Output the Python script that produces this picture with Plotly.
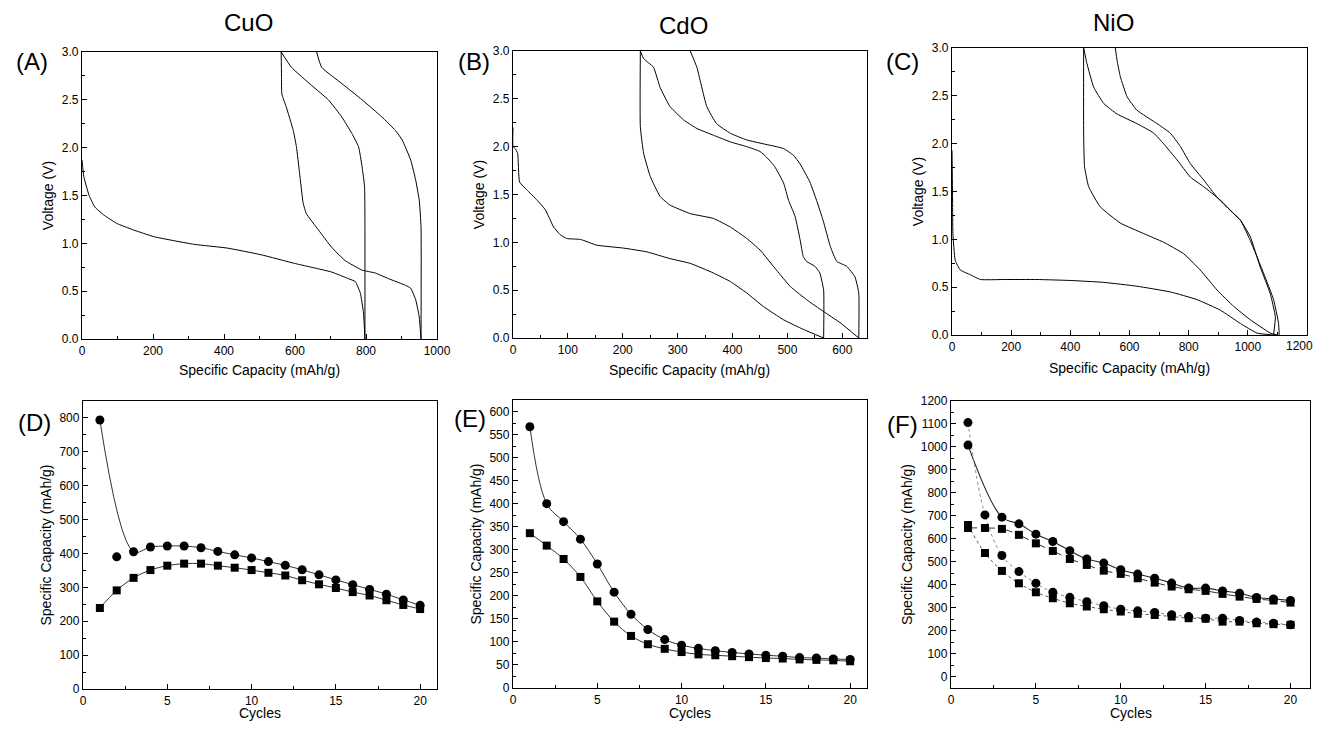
import plotly.graph_objects as go

# ---------------- Top row: voltage profiles ----------------
# CuO (A)
cuo_dis1_cap = [0, 5, 20, 36, 60, 97, 145, 202, 315, 410, 505, 599, 703, 751, 770, 784, 793, 797]
cuo_dis1_v = [1.87, 1.70, 1.50, 1.38, 1.30, 1.21, 1.14, 1.07, 0.99, 0.95, 0.88, 0.79, 0.70, 0.63, 0.60, 0.48, 0.27, 0.0]
cuo_chg1_cap = [797, 797, 796, 789, 779, 760, 732, 694, 647, 590, 561]
cuo_chg1_v = [0.0, 1.20, 1.59, 1.80, 2.01, 2.15, 2.32, 2.50, 2.65, 2.84, 3.0]
cuo_dis2_cap = [561, 562, 563, 575, 595, 604, 613, 623, 632, 666, 703, 741, 789, 826, 864, 912, 926, 940, 950, 955]
cuo_dis2_v = [3.0, 2.75, 2.56, 2.43, 2.18, 2.01, 1.73, 1.42, 1.31, 1.14, 0.96, 0.82, 0.72, 0.69, 0.63, 0.56, 0.53, 0.41, 0.23, 0.0]
cuo_chg2_cap = [955, 955, 950, 940, 926, 902, 883, 845, 789, 732, 675, 661]
cuo_chg2_v = [0.0, 1.17, 1.45, 1.66, 1.87, 2.08, 2.18, 2.32, 2.50, 2.67, 2.84, 3.0]

# CdO (B)
cdo_dis1_cap = [0, 0, 4, 8.5, 12, 25, 44, 59, 74, 86, 98, 123, 153, 201, 244, 286, 323, 365, 396, 426, 456, 493, 529, 566]
cdo_dis1_v = [2.2, 2.0, 1.98, 1.93, 1.63, 1.55, 1.44, 1.34, 1.16, 1.08, 1.04, 1.03, 0.97, 0.94, 0.90, 0.83, 0.78, 0.68, 0.59, 0.47, 0.33, 0.19, 0.09, 0.0]
cdo_chg1_cap = [566, 566, 559, 550, 535, 529, 523, 514, 502, 493, 477, 462, 450, 426, 396, 365, 335, 311, 286, 268, 256, 238, 232]
cdo_chg1_v = [0.0, 0.50, 0.68, 0.75, 0.80, 0.85, 1.03, 1.27, 1.44, 1.62, 1.79, 1.89, 1.95, 2.00, 2.05, 2.12, 2.19, 2.28, 2.42, 2.62, 2.83, 2.92, 3.0]
cdo_dis2_cap = [232, 232, 238, 250, 268, 286, 323, 365, 396, 426, 450, 480, 505, 535, 565, 596, 630]
cdo_dis2_v = [3.0, 2.21, 1.93, 1.69, 1.48, 1.39, 1.30, 1.25, 1.16, 1.04, 0.92, 0.71, 0.54, 0.40, 0.28, 0.16, 0.0]
cdo_chg2_cap = [630, 630, 623, 608, 590, 578, 565, 553, 541, 523, 511, 493, 456, 426, 396, 371, 353, 335, 323]
cdo_chg2_v = [0.0, 0.47, 0.64, 0.75, 0.80, 0.96, 1.23, 1.44, 1.63, 1.82, 1.91, 1.98, 2.03, 2.07, 2.14, 2.24, 2.42, 2.83, 3.0]

# NiO (C)
nio_dis1_cap = [0, 2, 3, 11, 28, 62, 96, 175, 287, 400, 513, 625, 738, 828, 907, 975, 1031, 1087]
nio_dis1_v = [1.93, 1.40, 1.06, 0.78, 0.68, 0.63, 0.58, 0.58, 0.58, 0.57, 0.55, 0.51, 0.45, 0.37, 0.26, 0.12, 0.02, 0.0]
nio_chg1_cap = [1087, 1093, 1076, 1042, 1008, 975, 952, 907, 851, 806, 761, 715, 682, 625, 558, 513, 479, 456, 445]
nio_chg1_v = [0.0, 0.19, 0.43, 0.71, 1.03, 1.20, 1.27, 1.41, 1.55, 1.65, 1.83, 2.00, 2.11, 2.21, 2.31, 2.42, 2.59, 2.84, 3.0]
nio_dis2_cap = [445, 445, 448, 462, 501, 569, 648, 715, 783, 839, 896, 952, 1008, 1076, 1099]
nio_dis2_v = [3.0, 2.10, 1.76, 1.55, 1.34, 1.17, 1.06, 0.97, 0.85, 0.68, 0.47, 0.30, 0.16, 0.02, 0.0]
nio_chg2_cap = [1106, 1104, 1087, 1054, 1008, 975, 941, 896, 851, 806, 772, 738, 693, 625, 592, 569, 558, 552]
nio_chg2_v = [0.0, 0.12, 0.37, 0.64, 0.99, 1.20, 1.30, 1.44, 1.62, 1.79, 1.97, 2.11, 2.21, 2.35, 2.49, 2.70, 2.87, 3.0]

# ---------------- Bottom row: cycling ----------------
cycles = list(range(1, 21))
cuo_circ = [794, 390, 405, 419, 422, 422, 417, 406, 396, 387, 376, 365, 352, 337, 322, 308, 294, 280, 263, 247]
cuo_sq = [239, 291, 328, 351, 364, 370, 370, 364, 358, 351, 343, 335, 321, 309, 298, 286, 276, 262, 248, 236]
cdo_circ = [567, 400, 361, 323, 269, 208, 160, 127, 105, 93, 86, 81, 77, 74, 71, 69, 66, 65, 63, 62]
cdo_sq = [336, 309, 280, 241, 188, 144, 113, 95, 85, 78, 73, 71, 69, 67, 65, 64, 62, 61, 60, 58]
nio_circ_a = [1008, None, 694, 665, 620, 588, 548, 512, 494, 465, 446, 428, 407, 385, 385, 373, 363, 344, 338, 331]
nio_sq_a = [647, 647, 643, 617, 580, 547, 512, 486, 461, 447, 428, 409, 392, 380, 373, 360, 348, 338, 331, 322]
nio_circ_b = [1106, 704, 527, 457, 406, 367, 345, 326, 308, 293, 286, 279, 269, 261, 254, 254, 244, 237, 232, 225]
nio_sq_b = [660, 538, 460, 406, 367, 341, 319, 305, 293, 283, 273, 268, 261, 254, 252, 239, 239, 232, 228, 225]

titles = ["CuO", "CdO", "NiO"]
panel_labels = ["(A)", "(B)", "(C)", "(D)", "(E)", "(F)"]
x_titles = ["Specific Capacity (mAh/g)"] * 3 + ["Cycles"] * 3
nio_cap_ticks = [0, 200, 400, 600, 800, 1000, 1200]

OFF = 8  # default page body margin
W, H = 1321 - 2 * OFF, 729 - 2 * OFF
FONT = "Liberation Sans, Arial, sans-serif"

def px_x(px):
    return (px - OFF) / W

def px_y(py):
    return 1 - (py - OFF) / H

# window-pixel boxes of plot areas (left, right, top, bottom)
boxes = [
    (82, 437, 52, 339), (513, 867, 51, 338), (952, 1307, 48, 335),
    (83, 437, 401, 689), (513, 867, 400, 688), (951, 1310, 401, 688),
]

fig = go.Figure()

def add_curve(ax, x, y, color="black", dash="solid", width=1.0, shape="spline", smoothing=0.5):
    fig.add_trace(go.Scatter(x=x, y=y, mode="lines", xaxis="x" + ax, yaxis="y" + ax,
                             line=dict(color=color, width=width, dash=dash, shape=shape, smoothing=smoothing),
                             showlegend=False, hoverinfo="skip", connectgaps=True))

def add_markers(ax, x, y, symbol, size=8):
    fig.add_trace(go.Scatter(x=x, y=y, mode="markers", xaxis="x" + ax, yaxis="y" + ax,
                             marker=dict(color="black", symbol=symbol, size=size, line=dict(width=0)),
                             showlegend=False))

# top row curves
for ax, curves in [("", [(cuo_dis1_cap, cuo_dis1_v), (cuo_chg1_cap, cuo_chg1_v), (cuo_dis2_cap, cuo_dis2_v), (cuo_chg2_cap, cuo_chg2_v)]),
                   ("2", [(cdo_dis1_cap, cdo_dis1_v), (cdo_chg1_cap, cdo_chg1_v), (cdo_dis2_cap, cdo_dis2_v), (cdo_chg2_cap, cdo_chg2_v)]),
                   ("3", [(nio_dis1_cap, nio_dis1_v), (nio_chg1_cap, nio_chg1_v), (nio_dis2_cap, nio_dis2_v), (nio_chg2_cap, nio_chg2_v)])]:
    for cx, cy in curves:
        add_curve(ax, cx, cy, width=1.0, smoothing=0.4)

# D: circle line skips the off-curve point of cycle 2
d_line_x = [c for i, c in enumerate(cycles) if i != 1]
d_line_y = [v for i, v in enumerate(cuo_circ) if i != 1]
add_curve("4", d_line_x, d_line_y, color="#333", width=1.0, smoothing=1.0)
add_curve("4", cycles, cuo_sq, color="#333", width=1.0, smoothing=1.0)
add_markers("4", cycles, cuo_circ, "circle", 9)
add_markers("4", cycles, cuo_sq, "square", 8)

# E
add_curve("5", cycles, cdo_circ, color="#333", width=1.0, smoothing=1.0)
add_curve("5", cycles, cdo_sq, color="#333", width=1.0, smoothing=1.0)
add_markers("5", cycles, cdo_circ, "circle", 9)
add_markers("5", cycles, cdo_sq, "square", 8)

# F
add_curve("6", cycles, nio_circ_a, color="#222", width=1.1, smoothing=1.0)
add_curve("6", cycles, nio_sq_a, color="#333", width=1.0, dash="dash", smoothing=1.0)
add_curve("6", cycles, nio_circ_b, color="#888", width=1.0, dash="dot", smoothing=1.0)
add_curve("6", cycles, nio_sq_b, color="#555", width=1.0, dash="dot", smoothing=1.0)
add_markers("6", cycles, nio_circ_a, "circle", 9)
add_markers("6", cycles, nio_sq_a, "square", 8)
add_markers("6", cycles, nio_circ_b, "circle", 9)
add_markers("6", cycles, nio_sq_b, "square", 8)

tickfont = dict(family=FONT, size=12, color="black")
titlefont = dict(family=FONT, size=14, color="black")

def axis_common():
    return dict(showgrid=False, zeroline=False, showline=True, linecolor="black", linewidth=1.3,
                mirror=True, ticks="inside", ticklen=5, tickwidth=1, tickcolor="black",
                tickfont=tickfont, automargin=False,
                minor=dict(ticks="inside", ticklen=3, tickwidth=1, tickcolor="black"))

x_specs = [
    dict(range=[0, 1000], dtick=200, minor_dtick=100, title_y=370),
    dict(range=[0, 645], dtick=100, minor_dtick=50, title_y=370),
    dict(range=[0, 1200], dtick=200, minor_dtick=100, title_y=368),
    dict(range=[0, 21], dtick=5, minor_dtick=2.5, title_y=713),
    dict(range=[0, 21], dtick=5, minor_dtick=2.5, title_y=713),
    dict(range=[0, 21.15], dtick=5, minor_dtick=2.5, title_y=713),
]
y_specs = [
    dict(range=[0, 3], dtick=0.5, minor_dtick=0.25, title="Voltage (V)", fmt=".1f"),
    dict(range=[0, 3], dtick=0.5, minor_dtick=0.25, title="Voltage (V)", fmt=".1f"),
    dict(range=[0, 3], dtick=0.5, minor_dtick=0.25, title="Voltage (V)", fmt=".1f"),
    dict(range=[0, 850], dtick=100, minor_dtick=50, title="Specific Capacity (mAh/g)", fmt="d"),
    dict(range=[0, 625], dtick=50, minor_dtick=25, title="Specific Capacity (mAh/g)", fmt="d"),
    dict(range=[-50, 1200], dtick=100, minor_dtick=50, title="Specific Capacity (mAh/g)", fmt="d", tick0=0),
]

layout = dict(width=W, height=H, margin=dict(l=0, r=0, t=0, b=0, autoexpand=False),
              paper_bgcolor="white", plot_bgcolor="white", showlegend=False,
              font=dict(family=FONT, color="black"))

annotations = []
for i, (bx, xs, ys) in enumerate(zip(boxes, x_specs, y_specs)):
    l, r, t, b = bx
    suf = "" if i == 0 else str(i + 1)
    xa = axis_common()
    xa.update(domain=[px_x(l), px_x(r)], range=xs["range"], dtick=xs["dtick"], tick0=0,
              anchor="y" + suf)
    xa["minor"]["dtick"] = xs["minor_dtick"]
    ya = axis_common()
    ya.update(domain=[px_y(b), px_y(t)], range=ys["range"], dtick=ys["dtick"], tick0=ys.get("tick0", 0),
              tickformat=ys["fmt"], anchor="x" + suf,
              title=dict(text=ys["title"], font=titlefont, standoff=4))
    ya["minor"]["dtick"] = ys["minor_dtick"]
    ya["minor"]["tick0"] = 0
    layout["xaxis" + suf] = xa
    layout["yaxis" + suf] = ya
    # x-axis title, placed below the tick labels of its panel
    annotations.append(dict(text=x_titles[i], x=px_x((l + r) / 2), y=px_y(xs["title_y"]),
                            xref="paper", yref="paper", xanchor="center", yanchor="middle",
                            showarrow=False, font=titlefont))

# NiO capacity axis: last label sits at the page edge, so it is drawn right-aligned
layout["xaxis3"].update(tickmode="array", tickvals=nio_cap_ticks,
                        ticktext=[str(v) for v in nio_cap_ticks[:-1]] + [""])

title_pos = [(248, 23), (683, 25), (1113, 23)]
for txt, (px, py) in zip(titles, title_pos):
    annotations.append(dict(text=txt, x=px_x(px), y=px_y(py), xref="paper", yref="paper",
                            showarrow=False, font=dict(family=FONT, size=24, color="black"),
                            xanchor="center", yanchor="middle"))
label_pos = [(32, 62), (474, 62), (902, 62), (34, 422), (470, 418), (902, 424)]
for txt, (px, py) in zip(panel_labels, label_pos):
    annotations.append(dict(text=txt, x=px_x(px), y=px_y(py), xref="paper", yref="paper",
                            showarrow=False, font=dict(family=FONT, size=24, color="black"),
                            xanchor="center", yanchor="middle"))
annotations.append(dict(text=str(nio_cap_ticks[-1]), x=nio_cap_ticks[-1], xref="x3",
                        y=px_y(boxes[2][3]), yref="paper", yanchor="top", yshift=-2,
                        xanchor="right", xshift=8, showarrow=False, font=tickfont))
layout["annotations"] = annotations

fig.update_layout(**layout)
fig.write_html("out.html")
